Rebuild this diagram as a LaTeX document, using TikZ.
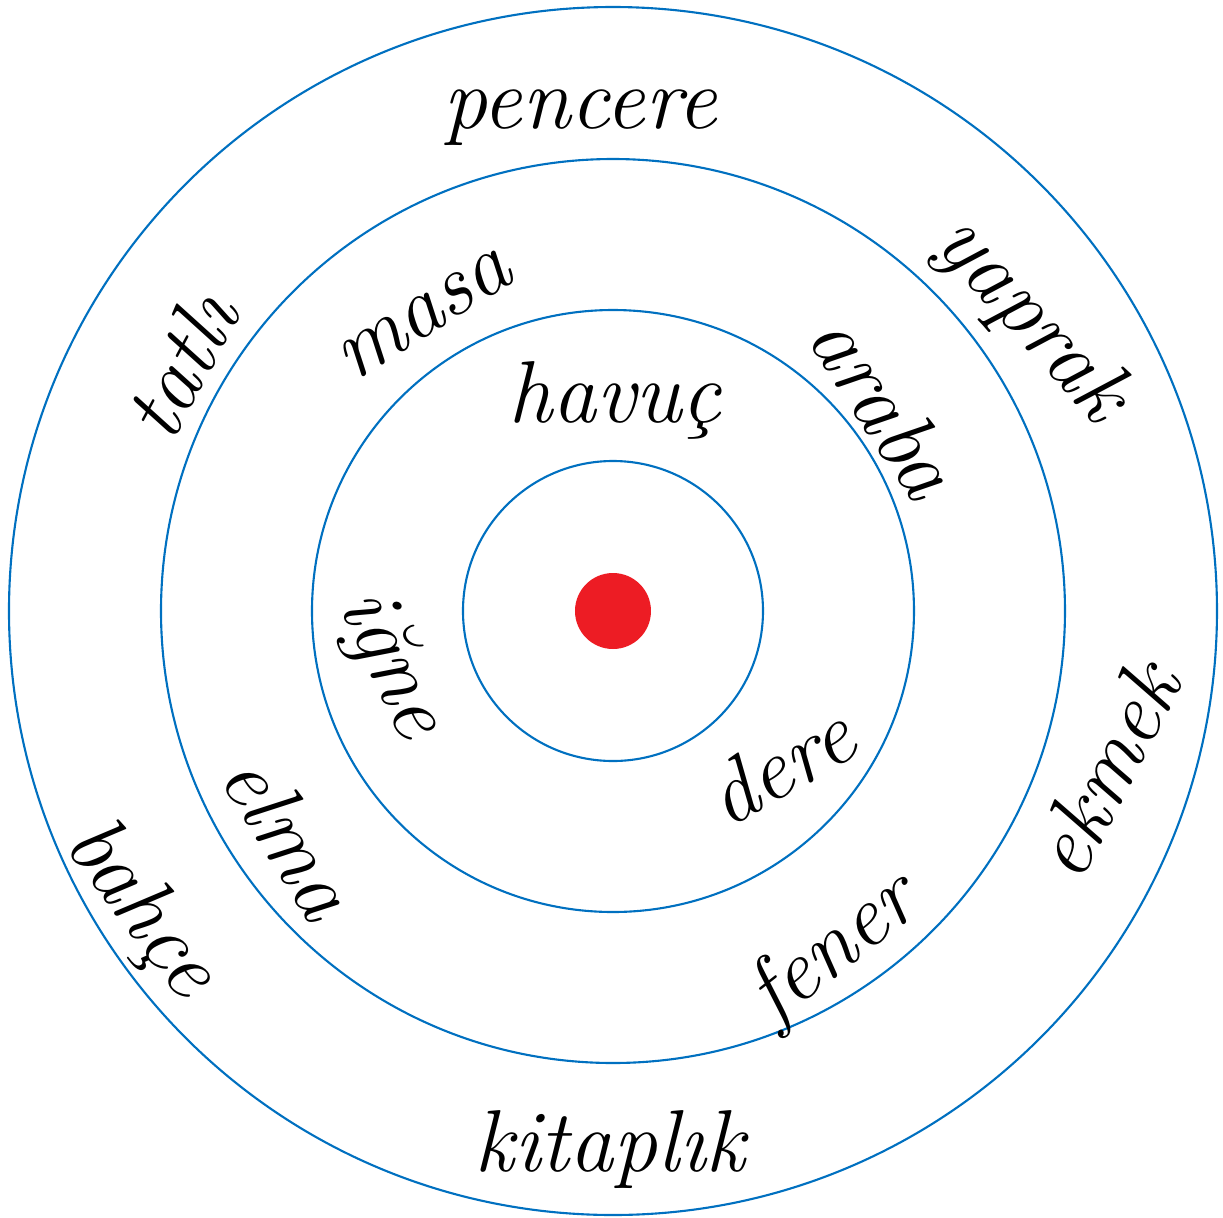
\documentclass[tikz,border=0pt]{standalone}
\usepackage{fontspec}
\definecolor{ringblue}{RGB}{0,112,192}
\definecolor{dotred}{RGB}{237,28,36}
\tikzset{
  ring/.style={draw=ringblue, line width=0.6pt},
  word/.style={font=\fontsize{25}{30}\selectfont\itshape, inner sep=0pt}
}
\begin{document}
\begin{tikzpicture}
      \useasboundingbox (-6.13,-6.06) rectangle (6.10,6.11);
      % rings
      \draw[ring] (0,0) circle (1.50);
      \draw[ring] (0,0) circle (3.01);
      \draw[ring] (0,0) circle (4.52);
      \draw[ring] (0,0) circle (6.04);
      \fill[dotred] (0,0) circle (0.38);
      % words
      \node[word] (pencere) at (-0.33,4.93) {pencere};
      \node[word, rotate=-48] (yaprak) at (4.17,2.91) {yaprak};
      \node[word, rotate=62] (tatli) at (-4.33,2.46) {tatlı};
      \node[word, rotate=32] (masa) at (-1.88,2.96) {masa};
      \node[word, rotate=-57] (araba) at (2.72,2.06) {araba};
      \node[word] (havuc) at (0.02,2.11) {havuç};
      \node[word, rotate=-65] (igne) at (-2.23,-0.54) {iğne};
      \node[word, rotate=30] (dere) at (1.67,-1.54) {dere};
      \node[word, rotate=-58] (elma) at (-3.23,-2.24) {elma};
      \node[word, rotate=-53] (bahce) at (-4.73,-2.99) {bahçe};
      \node[word, rotate=63] (ekmek) at (4.92,-1.59) {ekmek};
      \node[word, rotate=38] (fener) at (2.22,-3.39) {fener};
      \node[word] (kitaplik) at (-0.03,-5.39) {kitaplık};
\end{tikzpicture}
\end{document}
